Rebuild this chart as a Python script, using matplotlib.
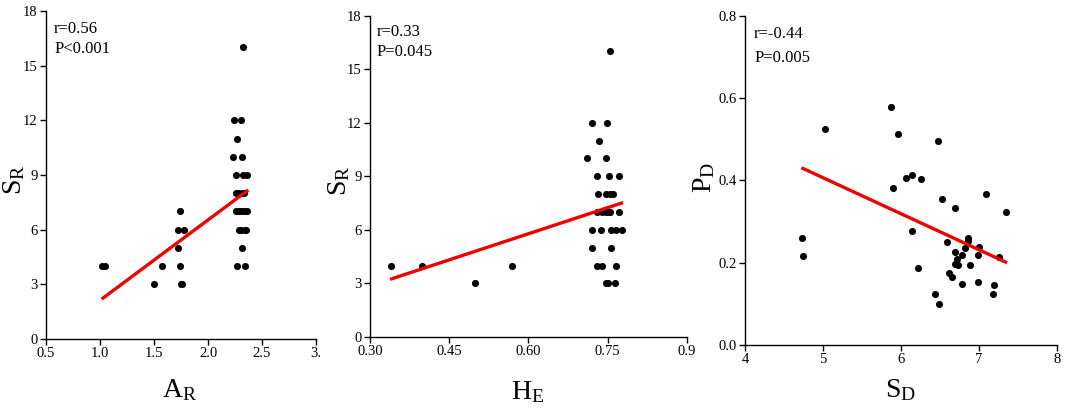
import matplotlib
matplotlib.use("Agg")
import matplotlib.pyplot as plt

plt.rcParams['font.family'] = ['Liberation Serif', 'DejaVu Serif']
plt.rcParams['mathtext.fontset'] = 'custom'
plt.rcParams['mathtext.rm'] = 'Liberation Serif'
plt.rcParams['mathtext.it'] = 'Liberation Serif:italic'

# Panel 1: S_R vs A_R
ar_x = [1.02, 1.05, 1.50, 1.57, 1.74, 1.72, 1.775, 1.72, 1.74, 1.75, 1.76,
        2.32, 2.244, 2.31, 2.27, 2.235, 2.315, 2.26, 2.32, 2.36,
        2.26, 2.29, 2.32, 2.335, 2.26, 2.285, 2.305, 2.33, 2.36,
        2.285, 2.305, 2.34, 2.355, 2.318, 2.27, 2.34]
ar_y = [4, 4, 3, 4, 7, 6, 6, 5, 4, 3, 3,
        16, 12, 12, 11, 10, 10, 9, 9, 9,
        8, 8, 8, 8, 7, 7, 7, 7, 7,
        6, 6, 6, 6, 5, 4, 4]
ar_fit_x = [1.015, 2.373]
ar_fit_y = [2.19, 8.18]

# Panel 2: S_R vs H_E
he_x = [0.339, 0.399, 0.499, 0.568, 0.754, 0.720, 0.749, 0.733, 0.711, 0.746,
        0.729, 0.753, 0.771, 0.732, 0.746, 0.755, 0.760,
        0.729, 0.739, 0.746, 0.751, 0.755, 0.771,
        0.721, 0.738, 0.757, 0.765, 0.777, 0.721, 0.757,
        0.729, 0.739, 0.765, 0.747, 0.751, 0.763]
he_y = [4, 4, 3, 4, 16, 12, 12, 11, 10, 10,
        9, 9, 9, 8, 8, 8, 8,
        7, 7, 7, 7, 7, 7,
        6, 6, 6, 6, 6, 5, 5,
        4, 4, 4, 3, 3, 3]
he_fit_x = [0.338, 0.779]
he_fit_y = [3.23, 7.53]

# Panel 3: P_D vs S_D
sd_x = [4.727, 4.744, 5.03, 5.868, 5.893, 5.966, 6.064, 6.145, 6.252, 6.141,
        6.214, 6.474, 6.526, 6.432, 6.487, 6.594, 6.615, 6.654, 6.692, 6.688,
        6.697, 6.735, 6.722, 6.778, 6.782, 6.82, 6.863, 6.863, 6.889, 6.983,
        6.983, 7.0, 7.09, 7.175, 7.188, 7.252, 7.35]
sd_y = [0.259, 0.217, 0.524, 0.579, 0.381, 0.512, 0.407, 0.413, 0.404, 0.277,
        0.187, 0.495, 0.355, 0.123, 0.099, 0.251, 0.176, 0.165, 0.333, 0.225,
        0.197, 0.195, 0.210, 0.218, 0.148, 0.237, 0.261, 0.254, 0.195, 0.153,
        0.220, 0.238, 0.368, 0.124, 0.147, 0.214, 0.323]
sd_fit_x = [4.722, 7.359]
sd_fit_y = [0.431, 0.200]

panels = [
    dict(x=ar_x, y=ar_y, fx=ar_fit_x, fy=ar_fit_y,
         pos=[0.0429, 0.187, 0.2519, 0.7866],
         xlim=(0.5, 3.0), ylim=(0, 18),
         xticks=[0.5, 1.0, 1.5, 2.0, 2.5, 3.0],
         xticklabels=['0.5', '1.0', '1.5', '2.0', '2.5', '3.'],
         yticks=[0, 3, 6, 9, 12, 15, 18],
         yticklabels=['0', '3', '6', '9', '12', '15', '18'],
         xlabel=r'$\mathrm{A}_\mathrm{R}$', ylabel=r'$\mathrm{S}_\mathrm{R}$',
         xlc=(0.496, -0.155), ylc=(-0.118, 0.485),
         txt=['r=0.56', 'P<0.001'], tpos=(0.03, 0.945, 0.884)),
    dict(x=he_x, y=he_y, fx=he_fit_x, fy=he_fit_y,
         pos=[0.3451, 0.1918, 0.2957, 0.7706],
         xlim=(0.30, 0.90), ylim=(0, 18),
         xticks=[0.30, 0.45, 0.60, 0.75, 0.90],
         xticklabels=['0.30', '0.45', '0.60', '0.75', '0.9'],
         yticks=[0, 3, 6, 9, 12, 15, 18],
         yticklabels=['0', '3', '6', '9', '12', '15', '18'],
         xlabel=r'$\mathrm{H}_\mathrm{E}$', ylabel=r'$\mathrm{S}_\mathrm{R}$',
         xlc=(0.498, -0.171), ylc=(-0.098, 0.485),
         txt=['r=0.33', 'P=0.045'], tpos=(0.022, 0.95, 0.887)),
    dict(x=sd_x, y=sd_y, fx=sd_fit_x, fy=sd_fit_y,
         pos=[0.695, 0.1727, 0.291, 0.789],
         xlim=(4, 8), ylim=(0, 0.8),
         xticks=[4, 5, 6, 7, 8],
         xticklabels=['4', '5', '6', '7', '8'],
         yticks=[0.0, 0.2, 0.4, 0.6, 0.8],
         yticklabels=['0.0', '0.2', '0.4', '0.6', '0.8'],
         xlabel=r'$\mathrm{S}_\mathrm{D}$', ylabel=r'$\mathrm{P}_\mathrm{D}$',
         xlc=(0.497, -0.137), ylc=(-0.13, 0.51),
         txt=['r=-0.44', 'P=0.005'], tpos=(0.029, 0.945, 0.872)),
]

fig = plt.figure(figsize=(10.72, 4.17), dpi=100)
for p in panels:
    ax = fig.add_axes(p['pos'])
    ax.scatter(p['x'], p['y'], s=26, color='black', zorder=3, linewidths=0)
    ax.plot(p['fx'], p['fy'], color='#ee0000', lw=2.4, zorder=4,
            solid_capstyle='butt')
    ax.set_xlim(*p['xlim'])
    ax.set_ylim(*p['ylim'])
    ax.set_xticks(p['xticks'])
    ax.set_xticklabels(p['xticklabels'])
    ax.set_yticks(p['yticks'])
    ax.set_yticklabels(p['yticklabels'])
    for s in ['top', 'right']:
        ax.spines[s].set_visible(False)
    for s in ['left', 'bottom']:
        ax.spines[s].set_linewidth(1.0)
    ax.tick_params(direction='out', length=4, width=1.0, labelsize=10.5, pad=2)
    ax.set_xlabel(p['xlabel'], fontsize=20)
    ax.set_ylabel(p['ylabel'], fontsize=20)
    ax.xaxis.set_label_coords(*p['xlc'])
    ax.xaxis.label.set_va('center')
    ax.yaxis.set_label_coords(*p['ylc'])
    ax.yaxis.label.set_va('center')
    tx, ty1, ty2 = p['tpos']
    ax.text(tx, ty1, p['txt'][0], transform=ax.transAxes, fontsize=12,
            va='center', ha='left')
    ax.text(tx, ty2, p['txt'][1], transform=ax.transAxes, fontsize=12,
            va='center', ha='left')

fig.savefig('out.png', dpi=100)
